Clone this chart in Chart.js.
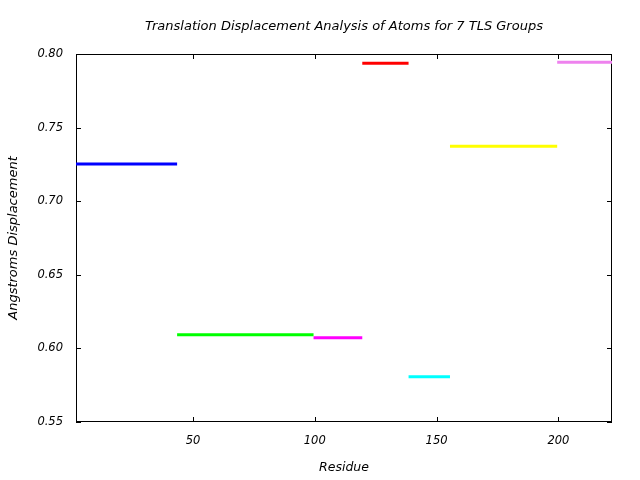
<!DOCTYPE html>
<html><head><meta charset="utf-8">
<script src="https://cdn.jsdelivr.net/npm/chart.js@4/dist/chart.umd.min.js"></script>
<style>html,body{margin:0;padding:0;background:#fff}#wrap{width:640px;height:480px}</style>
</head><body><div id="wrap"><canvas id="c" width="640" height="480"></canvas></div>
<script>
const groupStart = [2, 43.5, 99.5, 119.5, 138.5, 155.5, 199.5];
const groupEnd = [43.5, 99.5, 119.5, 138.5, 155.5, 199.5, 222];
const groupDisplacement = [0.7253, 0.6092, 0.6072, 0.7937, 0.5807, 0.7373, 0.7944];
const groupColors = ['#0000ff', '#00ff00', '#ff00ff', '#ff0000', '#00ffff', '#ffff00', '#ee82ee'];
const xTicks = [50, 100, 150, 200];
const yTicks = [0.55, 0.60, 0.65, 0.70, 0.75, 0.80];
const titleText = 'Translation Displacement Analysis of Atoms for 7 TLS Groups';
const xTitle = 'Residue';
const yTitle = 'Angstroms Displacement';

const FAM = '"DejaVu Sans", sans-serif';

const datasets = groupDisplacement.map((v, i) => ({
  label: 'Group ' + (i + 1),
  data: [{x: groupStart[i], y: v}, {x: groupEnd[i], y: v}],
  borderColor: groupColors[i],
  backgroundColor: groupColors[i],
  borderWidth: 3,
  pointRadius: 0,
  fill: false,
  clip: 3
}));

const boxPlugin = {
  id: 'box',
  beforeDatasetsDraw(chart) {
    const {ctx, chartArea: a, scales} = chart;
    ctx.save();
    ctx.strokeStyle = '#000';
    ctx.lineWidth = 1;
    ctx.strokeRect(Math.round(a.left) + 0.5, Math.round(a.top) + 0.5, Math.round(a.right - a.left) - 1, Math.round(a.bottom - a.top) - 1);
    const t = 5;
    ctx.beginPath();
    xTicks.forEach(v => {
      const px = Math.round(scales.x.getPixelForValue(v)) + 0.5;
      ctx.moveTo(px, a.bottom); ctx.lineTo(px, a.bottom - t);
      ctx.moveTo(px, a.top); ctx.lineTo(px, a.top + t);
    });
    yTicks.forEach(v => {
      const py = Math.round(scales.y.getPixelForValue(v)) + 0.5;
      ctx.moveTo(a.left, py); ctx.lineTo(a.left + t, py);
      ctx.moveTo(a.right, py); ctx.lineTo(a.right - t, py);
    });
    ctx.stroke();
    // chart title centred over the plot area
    ctx.fillStyle = '#000';
    ctx.font = 'italic 13px ' + FAM;
    ctx.textAlign = 'center';
    ctx.textBaseline = 'middle';
    ctx.fillText(titleText, (a.left + a.right) / 2, 27);
    ctx.restore();
  }
};

new Chart(document.getElementById('c'), {
  type: 'line',
  data: {datasets},
  plugins: [boxPlugin],
  options: {
    responsive: false,
    animation: false,
    devicePixelRatio: 1,
    layout: {padding: {left: 0, right: 28, top: 54, bottom: 0}},
    plugins: {
      legend: {display: false},
      tooltip: {enabled: false},
      title: {display: false}
    },
    scales: {
      x: {
        type: 'linear',
        min: 2, max: 222,
        afterBuildTicks: s => { s.ticks = xTicks.map(v => ({value: v})); },
        afterFit: s => { s.height = 58; },
        grid: {display: false, drawTicks: false},
        border: {display: false},
        ticks: {color: '#000', padding: 12, maxRotation: 0, autoSkip: false,
          font: {family: FAM, size: 11.5, style: 'italic'}},
        title: {display: true, text: xTitle, color: '#000',
          font: {family: FAM, size: 12.5, style: 'italic'}, padding: {top: 0, bottom: 5}}
      },
      y: {
        type: 'linear',
        min: 0.55, max: 0.80,
        afterBuildTicks: s => { s.ticks = yTicks.map(v => ({value: v})); },
        afterFit: s => { s.width = 76; },
        grid: {display: false, drawTicks: false},
        border: {display: false},
        ticks: {color: '#000', padding: 13, autoSkip: false,
          callback: v => Number(v).toFixed(2),
          font: {family: FAM, size: 11.5, style: 'italic'}},
        title: {display: true, text: yTitle, color: '#000',
          font: {family: FAM, size: 13, style: 'italic'}, padding: {top: 6, bottom: 0}}
      }
    }
  }
});
</script></body></html>
